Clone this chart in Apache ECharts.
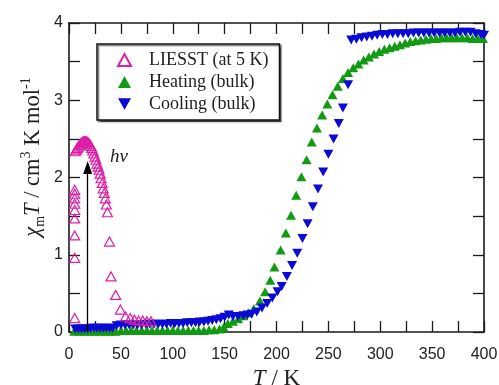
<!DOCTYPE html>
<html><head><meta charset="utf-8">
<script src="https://cdn.jsdelivr.net/npm/echarts@6/dist/echarts.min.js"></script>
<style>html,body{margin:0;padding:0;background:#fff}#c{width:499px;height:385px}</style>
</head><body><div id="c"></div>
<script>
// ---- data ----
const xTicks = [0, 50, 100, 150, 200, 250, 300, 350, 400];
const yTicks = [0, 1, 2, 3, 4];
const liesstT = [5.5, 5.5, 5.5, 5.5, 5.5, 5.5, 5.5, 5.5, 5.5,
  6, 7, 8, 9, 10, 11, 12, 13, 14, 15, 16, 17, 18, 19, 20, 21, 22, 23, 24, 25, 26, 27, 28, 29, 30, 31, 32, 33, 34, 35, 36, 37,
  39, 40.5, 45, 49.5, 54.5, 59, 63, 67, 71, 75, 79];
const liesstV = [0.18, 0.96, 1.25, 1.47, 1.58, 1.66, 1.73, 1.79, 1.84,
  2.34, 2.36, 2.38, 2.40, 2.42, 2.44, 2.45, 2.46, 2.47, 2.47, 2.47, 2.47, 2.46, 2.45, 2.43, 2.41, 2.38, 2.35, 2.31, 2.27, 2.23, 2.18, 2.14, 2.10, 2.05, 1.99, 1.93, 1.86, 1.80, 1.73, 1.65, 1.55,
  1.17, 0.72, 0.48, 0.29, 0.20, 0.18, 0.16, 0.15, 0.15, 0.14, 0.14];
const heatT = [5, 10, 15, 20, 25, 30, 35, 40, 45, 50, 55, 60, 65, 70, 75, 80, 85, 90, 95, 100,
  105, 110, 115, 120, 125, 130, 135, 140, 145, 149, 153, 158, 163, 168, 173, 178, 184, 189,
  194, 198, 204, 209, 214, 219, 224, 229, 234, 239, 244, 249, 254, 259, 264, 269, 274, 279,
  284, 289, 294, 299, 304, 309, 314, 319, 324, 329, 334, 339, 344, 349, 354, 359, 364, 369,
  374, 379, 384, 389, 394, 399];
const heatV = [0.01, 0.01, 0.01, 0.01, 0.01, 0.01, 0.01, 0.01, 0.01, 0.02, 0.02, 0.02, 0.02, 0.02, 0.02, 0.02, 0.02, 0.02, 0.02, 0.02,
  0.02, 0.02, 0.02, 0.02, 0.02, 0.02, 0.03, 0.03, 0.04, 0.06, 0.11, 0.14, 0.17, 0.21, 0.25, 0.30, 0.40, 0.52,
  0.67, 0.84, 1.06, 1.28, 1.51, 1.77, 2.01, 2.23, 2.46, 2.64, 2.81, 2.95, 3.07, 3.18, 3.28, 3.36, 3.42, 3.47,
  3.52, 3.56, 3.60, 3.63, 3.66, 3.68, 3.70, 3.72, 3.74, 3.76, 3.77, 3.78, 3.79, 3.80, 3.80, 3.81, 3.81, 3.81,
  3.81, 3.81, 3.81, 3.80, 3.80, 3.80];
const coolT = [6, 9, 12, 15, 18, 21, 24, 27, 30, 33, 36, 39, 42, 46, 50, 54, 58, 62, 66, 70, 74, 78, 82, 86, 90,
  94, 98, 102, 106, 110, 114, 118, 122, 126, 130, 134, 138, 142, 146, 150, 154, 158, 163, 168, 172,
  176, 181, 186, 191, 196, 201, 205, 210, 215, 220, 225, 230, 235, 240, 245, 250, 255, 260, 264, 269,
  272, 277, 282, 287, 292, 297, 302, 307, 312, 317, 322, 327, 332, 337, 342, 347, 352, 357, 362, 367,
  372, 377, 382, 387, 392, 397, 400];
const coolV = [0.04, 0.04, 0.04, 0.04, 0.04, 0.05, 0.05, 0.05, 0.05, 0.05, 0.05, 0.05, 0.05, 0.08, 0.09, 0.09, 0.09, 0.09, 0.09, 0.09, 0.10, 0.10, 0.10, 0.10, 0.10,
  0.10, 0.11, 0.11, 0.11, 0.11, 0.12, 0.12, 0.12, 0.13, 0.13, 0.14, 0.15, 0.16, 0.17, 0.19, 0.22, 0.20, 0.20, 0.21, 0.22,
  0.23, 0.26, 0.31, 0.37, 0.44, 0.52, 0.59, 0.72, 0.86, 1.02, 1.21, 1.40, 1.62, 1.85, 2.07, 2.30, 2.50, 2.70, 2.90, 3.20,
  3.78, 3.79, 3.81, 3.82, 3.83, 3.84, 3.85, 3.85, 3.86, 3.86, 3.86, 3.86, 3.87, 3.87, 3.87, 3.87, 3.87, 3.87, 3.87, 3.87,
  3.87, 3.88, 3.88, 3.88, 3.86, 3.85, 3.84];
const arrowT = 18, arrowFrom = 0, arrowTo = 2.13;

const zip = (a, b) => a.map((v, i) => [v, b[i]]);
const serif = '"Liberation Serif", "Times New Roman", serif';
const sans = '"Liberation Sans", Arial, sans-serif';
const MAG = '#dc1fa6', GRN = '#129a12', BLU = '#0a0ad4';
const axisCol = '#1a1a1a';

const chart = echarts.init(document.getElementById('c'));
const tick = () => ({ show: true, inside: true, length: 11, lineStyle: { color: axisCol, width: 1.3 } });
const aLine = () => ({ show: true, onZero: false, lineStyle: { color: axisCol, width: 1.6 } });
const fmtX = v => xTicks.includes(v) ? String(v) : '';
const fmtY = v => yTicks.includes(v) ? String(v) : '';

chart.setOption({
  animation: false,
  grid: { left: 69, right: 15, top: 23, bottom: 53, containLabel: false, outerBoundsMode: 'none' },
  xAxis: [
    { type: 'value', min: 0, max: 400, interval: 25, position: 'bottom',
      axisLine: aLine(), axisTick: tick(), splitLine: { show: false },
      axisLabel: { formatter: fmtX, fontFamily: sans, fontSize: 16, color: '#222', margin: 15, showMinLabel: true, showMaxLabel: true },
      name: '{i|T} / K', nameLocation: 'middle', nameGap: 31,
      nameTextStyle: { fontFamily: serif, fontSize: 23, color: '#222',
        rich: { i: { fontFamily: serif, fontStyle: 'italic', fontSize: 23, color: '#222' } } } },
    { type: 'value', min: 0, max: 400, interval: 25, position: 'top',
      axisLine: aLine(), axisTick: tick(), splitLine: { show: false },
      axisLabel: { show: false } }
  ],
  yAxis: [
    { type: 'value', min: 0, max: 4, interval: 0.5, position: 'left',
      axisLine: aLine(), axisTick: tick(), splitLine: { show: false },
      axisLabel: { formatter: fmtY, fontFamily: sans, fontSize: 16, color: '#222', margin: 6 } },
    { type: 'value', min: 0, max: 4, interval: 0.5, position: 'right',
      axisLine: aLine(), axisTick: tick(), splitLine: { show: false },
      axisLabel: { show: false } }
  ],
  legend: {
    orient: 'vertical', left: 97, top: 44,
    padding: [6, 11, 6, 20], itemGap: 2, itemWidth: 13, itemHeight: 12, itemTextGap: 5,
    backgroundColor: '#fff', borderColor: '#111', borderWidth: 1.5, borderRadius: 0,
    shadowColor: 'rgba(0,0,0,0.55)', shadowBlur: 1, shadowOffsetX: 1.5, shadowOffsetY: 1.5,
    textStyle: { fontFamily: serif, fontSize: 18, color: '#222', lineHeight: 20, padding: [0, 0, 0, 13] },
    data: ['LIESST (at 5 K)', 'Heating (bulk)', 'Cooling (bulk)']
  },
  graphic: [
    { type: 'text', x: 33, y: 157, rotation: Math.PI / 2,
      style: {
        text: '{i|χ}{sub|m}{i|T}{n| / cm}{sup|3}{n| K mol}{sup|-1}',
        align: 'center', verticalAlign: 'middle', fill: '#222',
        rich: {
          i: { fontFamily: serif, fontStyle: 'italic', fontSize: 22.5, lineHeight: 28, fill: '#222' },
          n: { fontFamily: serif, fontSize: 22.5, lineHeight: 28, fill: '#222' },
          sub: { fontFamily: serif, fontSize: 14, lineHeight: 14, verticalAlign: 'bottom', fill: '#222' },
          sup: { fontFamily: serif, fontSize: 14, lineHeight: 14, verticalAlign: 'top', fill: '#222' }
        }
      } },
    { type: 'text', x: 110, y: 147,
      style: { text: 'hν', fontFamily: serif, fontStyle: 'italic', fontSize: 19, fill: '#222' } }
  ],
  series: [
    { name: 'Heating (bulk)', type: 'scatter', data: zip(heatT, heatV), symbol: 'triangle', symbolSize: [10, 9],
      itemStyle: { color: GRN, opacity: 1 }, z: 2 },
    { name: 'Cooling (bulk)', type: 'scatter', data: zip(coolT, coolV), symbol: 'path://M0,0L10,0L5,9Z', symbolSize: [10, 9],
      itemStyle: { color: BLU, opacity: 1 }, z: 3 },
    { name: 'LIESST (at 5 K)', type: 'scatter', data: zip(liesstT, liesstV), symbol: 'triangle', symbolSize: [10, 9],
      itemStyle: { color: 'rgba(255,255,255,0)', borderColor: MAG, borderWidth: 1.2, opacity: 1 }, z: 4,
      markLine: { silent: true, symbol: ['none', 'triangle'], symbolSize: [9, 13], animation: false,
        lineStyle: { color: '#000', width: 1.3, type: 'solid' }, label: { show: false },
        data: [[{ coord: [arrowT, arrowFrom] }, { coord: [arrowT, arrowTo] }]] } }
  ]
});
</script></body></html>
